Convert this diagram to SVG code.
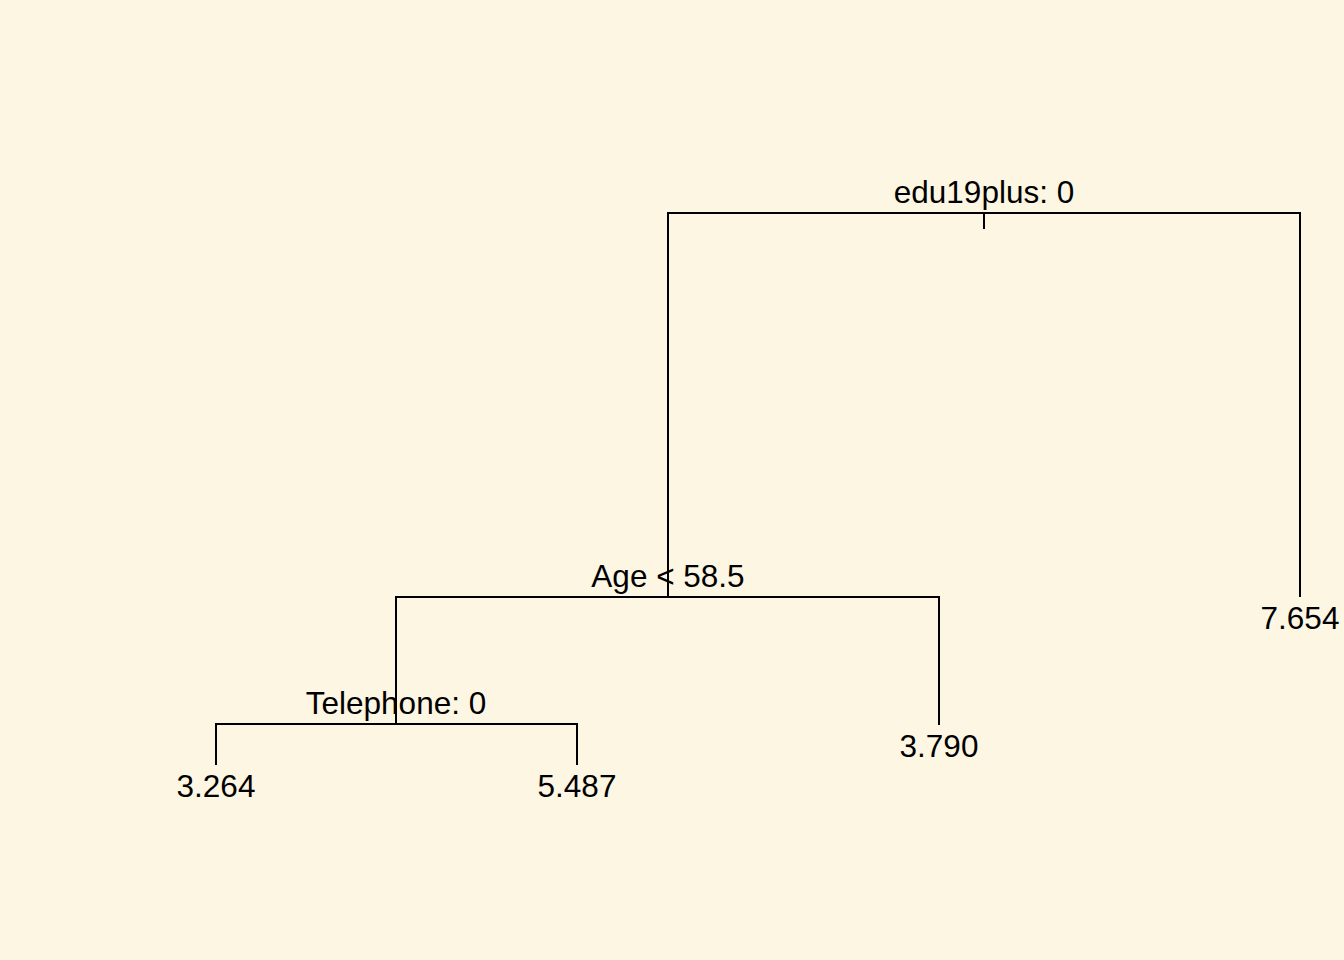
<svg xmlns="http://www.w3.org/2000/svg" width="1344" height="960" viewBox="0 0 1344 960">
<style>
.lbl{font-family:"Liberation Sans",Arial,sans-serif;font-size:31.5px;fill:#000;text-anchor:middle}
.edge{fill:none;stroke:#000;stroke-width:2;stroke-linecap:butt}
</style>
<rect x="0" y="0" width="1344" height="960" fill="#FDF6E3"/>
<g id="connectors">
<path class="edge" d="M984,229 V213"/>
<path class="edge" d="M668,597 V213 H1300 V597"/>
<path class="edge" d="M396,724 V597 H939 V725"/>
<path class="edge" d="M216,765 V724 H577 V765"/>
</g>
<g id="node-root"><text class="lbl" x="984" y="203">edu19plus: 0</text></g>
<g id="node-age"><text class="lbl" x="668" y="587">Age &lt; 58.5</text></g>
<g id="node-telephone"><text class="lbl" x="396" y="714">Telephone: 0</text></g>
<g id="leaf-3264"><text class="lbl" x="216" y="797">3.264</text></g>
<g id="leaf-5487"><text class="lbl" x="577" y="797">5.487</text></g>
<g id="leaf-3790"><text class="lbl" x="939" y="757">3.790</text></g>
<g id="leaf-7654"><text class="lbl" x="1300" y="629">7.654</text></g>
</svg>
